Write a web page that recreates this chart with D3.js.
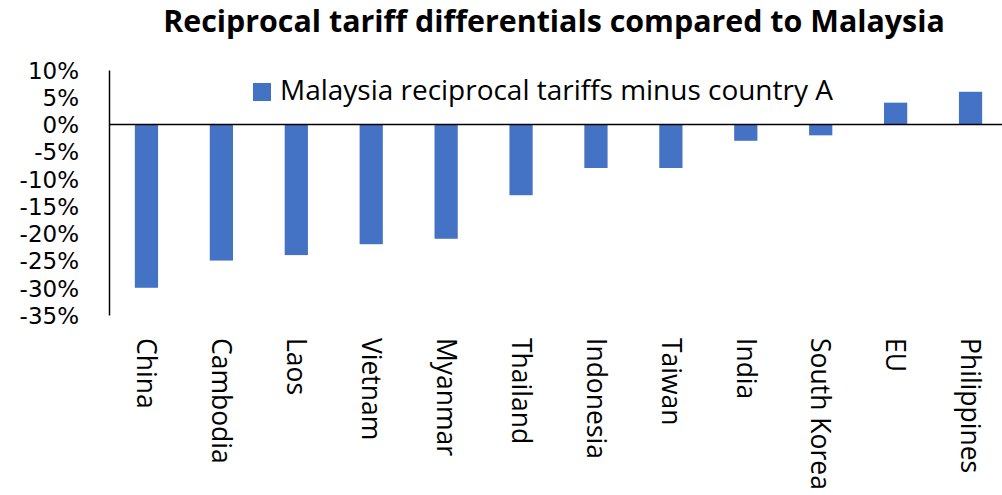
<!DOCTYPE html>
<html><head><meta charset="utf-8">
<script src="https://cdn.jsdelivr.net/npm/d3@7"></script>
<style>body{margin:0;background:#fff}svg{display:block}text{font-family:"Open Sans",sans-serif;fill:#000}</style>
</head><body>
<script>
const categories = ["China","Cambodia","Laos","Vietnam","Myanmar","Thailand","Indonesia","Taiwan","India","South Korea","EU","Philippines"];
const values = [-30,-25,-24,-22,-21,-13,-8,-8,-3,-2,4,6];
const yTicks = [10,5,0,-5,-10,-15,-20,-25,-30,-35];
const title = "Reciprocal tariff differentials compared to Malaysia";
const seriesName = "Malaysia reciprocal tariffs minus country A";

const W = 1002, H = 495;
const svg = d3.select("body").append("svg").attr("width", W).attr("height", H);
const x = d3.scaleBand().domain(categories).range([109, 1008]).paddingInner(0.69).paddingOuter(0.345);
const y = d3.scaleLinear().domain([-35, 10]).range([315, 70]);
const color = "#4472C4";

function fit(sel, target) {
  const fs = parseFloat(sel.style("font-size"));
  const w = sel.node().getComputedTextLength();
  sel.style("font-size", (fs * target / w).toFixed(2) + "px");
}

const t = svg.append("text").attr("x", 554).attr("y", 32).attr("text-anchor", "middle")
  .style("font-size", "26px").style("font-weight", "bold").text(title);
fit(t, 782);

svg.selectAll("rect.bar").data(values).join("rect").attr("class","bar")
  .attr("x", (d,i) => x(categories[i]))
  .attr("width", x.bandwidth())
  .attr("y", d => y(Math.max(0,d)))
  .attr("height", d => Math.abs(y(d) - y(0)))
  .attr("fill", color);

const yAxis = svg.append("g").attr("transform", "translate(109,0)")
  .call(d3.axisLeft(y).tickValues(yTicks).tickSize(0).tickPadding(30).tickFormat(d => d + "%"));
yAxis.select(".domain").attr("stroke", "#000").attr("stroke-width", 1.5);
yAxis.selectAll("text").attr("font-family", null).attr("font-size", null)
  .style("font-family", "'DejaVu Sans', sans-serif").style("font-size", "23px").attr("dy", "0.36em");

svg.append("line").attr("x1", 109).attr("x2", W).attr("y1", y(0)).attr("y2", y(0))
  .attr("stroke", "#000").attr("stroke-width", 1.5);

const xl = svg.append("g");
xl.selectAll("text").data(categories).join("text")
  .attr("transform", d => `translate(${x(d) + x.bandwidth()/2},338) rotate(90)`)
  .attr("dy", "0.35em").attr("text-anchor", "start")
  .style("font-size", "26.5px").text(d => d);

const lg = svg.append("g");
lg.append("rect").attr("x", 253).attr("y", 83).attr("width", 18).attr("height", 18).attr("fill", color);
const lt = lg.append("text").attr("x", 280).attr("y", 100).style("font-size", "24px").text(seriesName);
fit(lt, 553);
</script>
</body></html>
